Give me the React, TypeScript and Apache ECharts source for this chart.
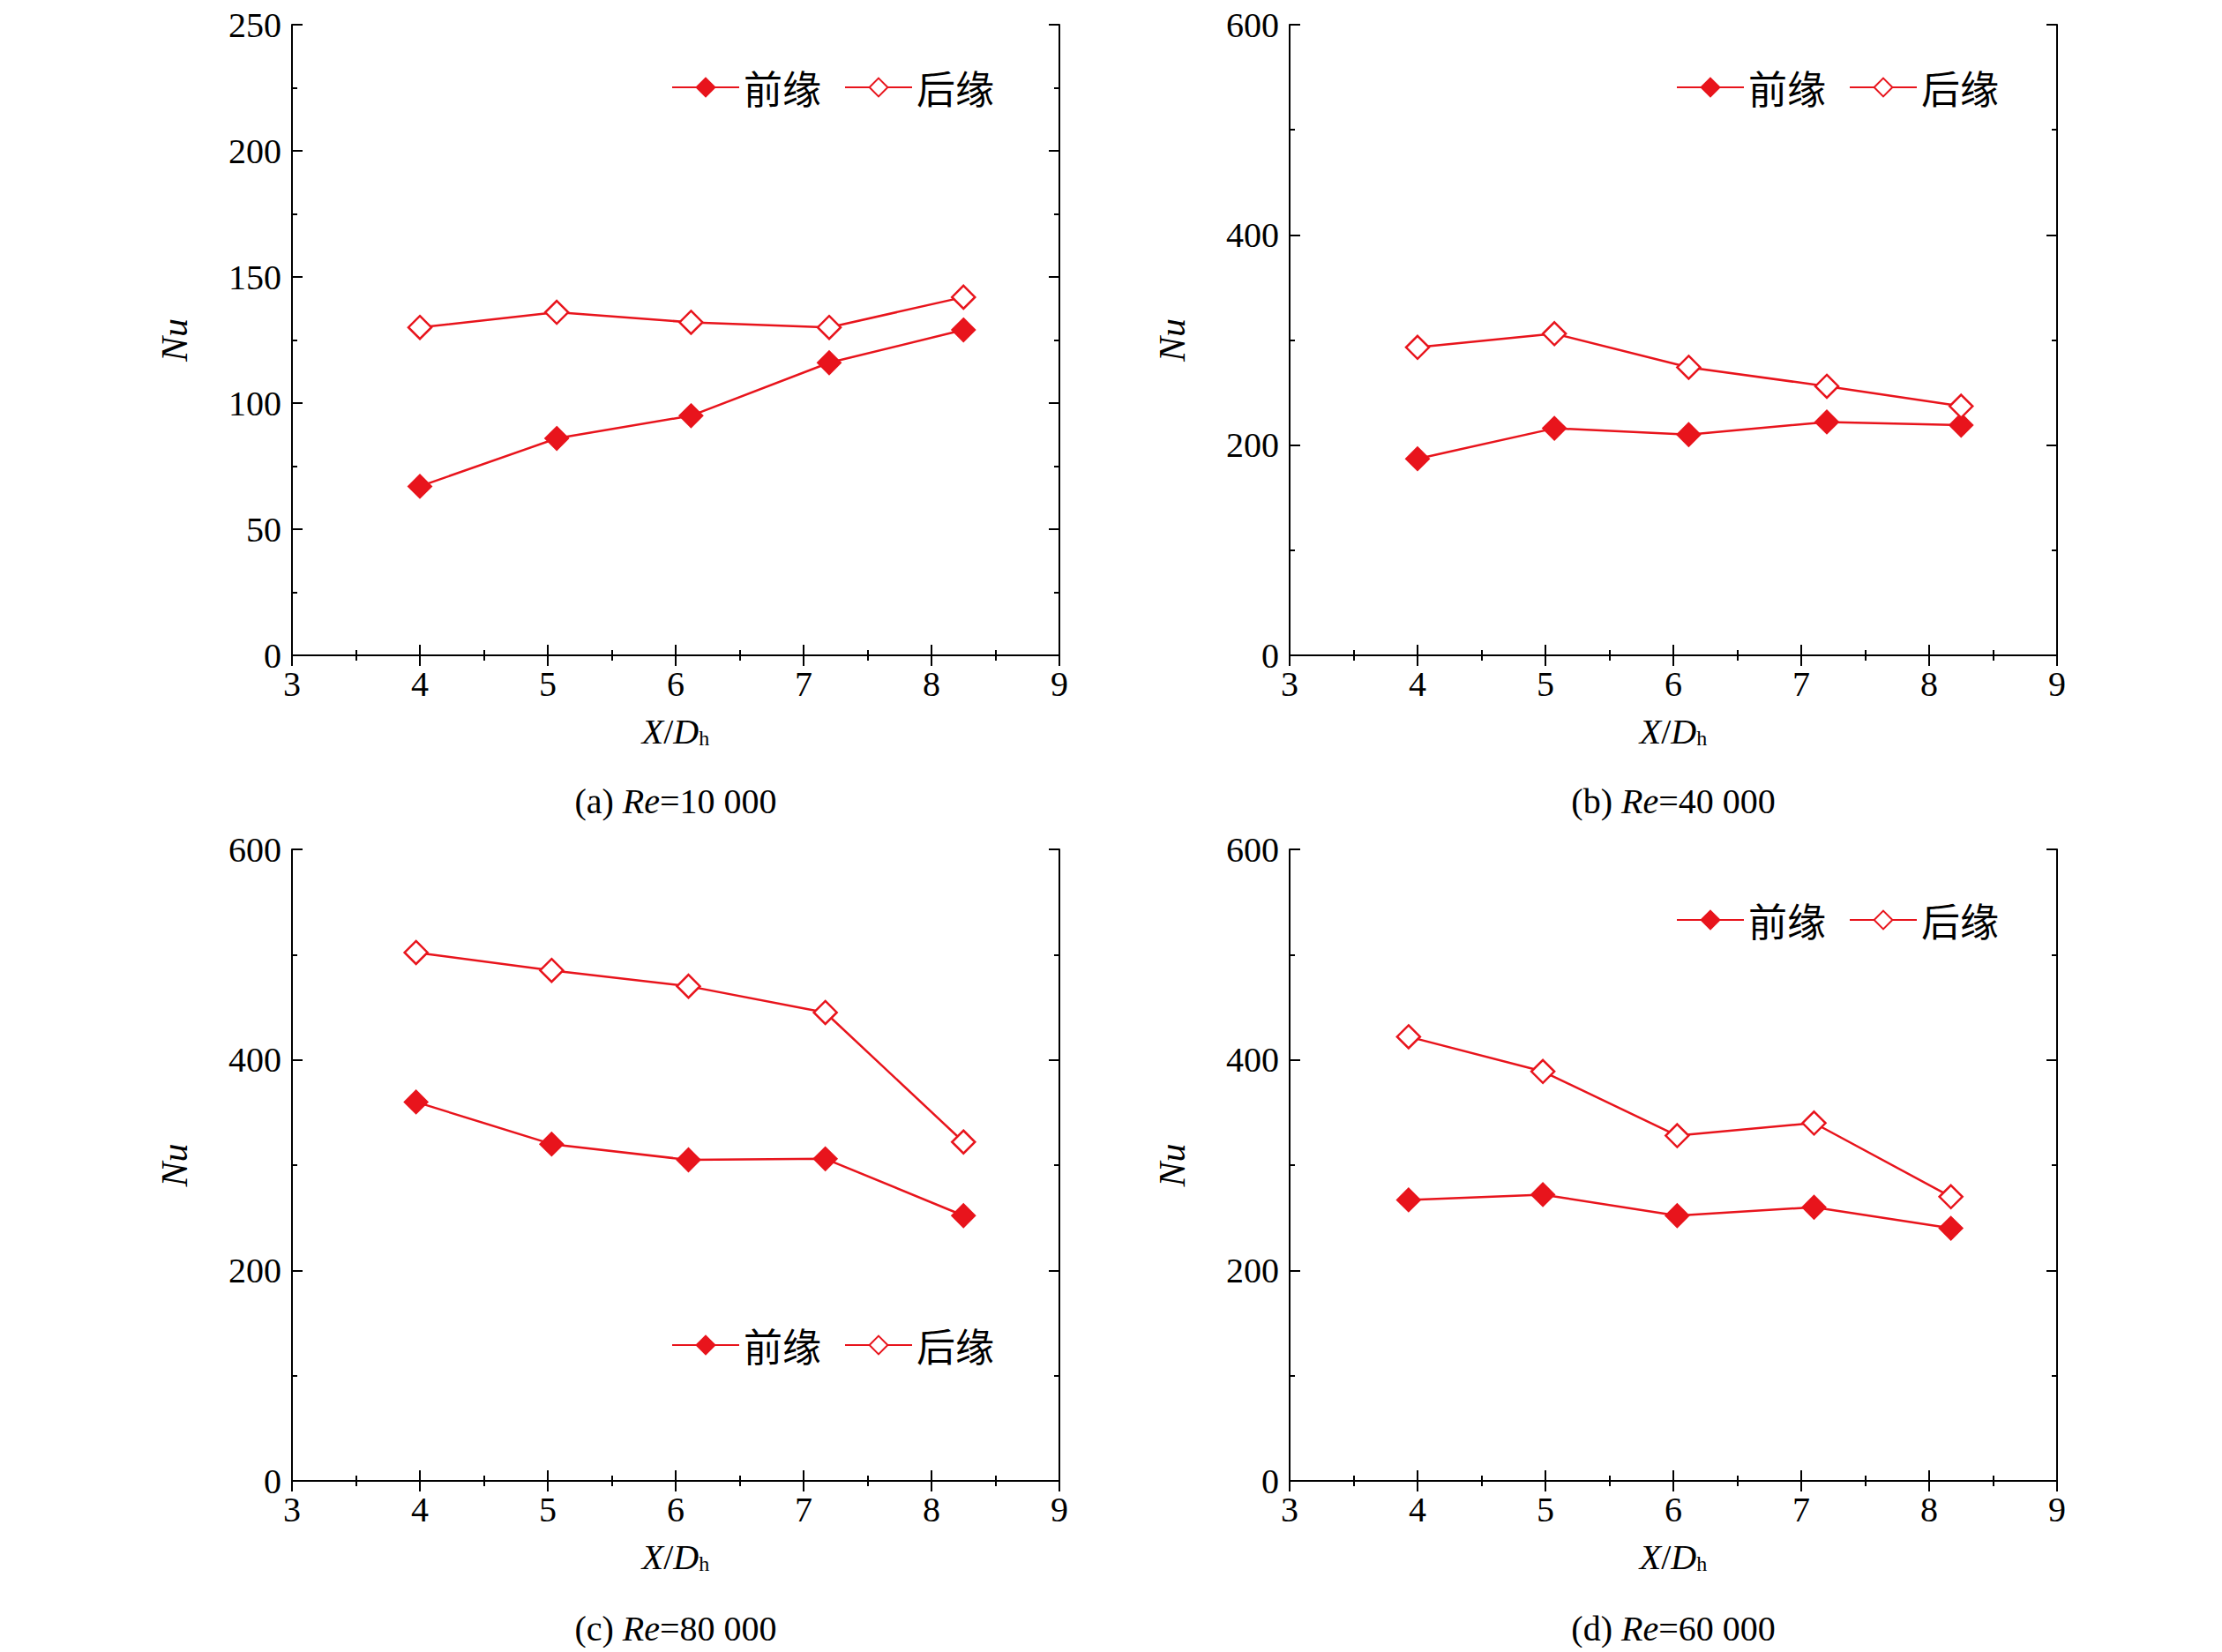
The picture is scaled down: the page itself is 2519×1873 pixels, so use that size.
import { useEffect, useRef } from "react";
import * as echarts from "echarts";

// x positions (X/Dh) and Nu values per panel
const xA = [4, 5.07, 6.12, 7.2, 8.25];
const frontA = [67, 86, 95, 116, 129];
const backA = [130, 136, 132, 130, 142];

const xB = [4, 5.07, 6.12, 7.2, 8.25];
const frontB = [187, 216, 210, 222, 219];
const backB = [293, 306, 274, 256, 237];

const xC = [3.97, 5.03, 6.1, 7.17, 8.25];
const frontC = [360, 320, 305, 306, 252];
const backC = [502, 485, 470, 445, 322];

const xD = [3.93, 4.98, 6.03, 7.1, 8.17];
const frontD = [267, 272, 252, 260, 240];
const backD = [422, 389, 328, 340, 270];

const captions = ["(a) ", "(b) ", "(c) ", "(d) "];
const reValues = ["=10 000", "=40 000", "=80 000", "=60 000"];

const RED = "#e8141c";
const FONT = "Liberation Serif";

const panels = [
  { xs: xA, front: frontA, back: backA, yMax: 250, yInt: 50 },
  { xs: xB, front: frontB, back: backB, yMax: 600, yInt: 200 },
  { xs: xC, front: frontC, back: backC, yMax: 600, yInt: 200 },
  { xs: xD, front: frontD, back: backD, yMax: 600, yInt: 200 },
];

const grids = [
  { left: 323, top: 19 },
  { left: 1454, top: 19 },
  { left: 323, top: 955 },
  { left: 1454, top: 955 },
].map((g) => ({ ...g, width: 870, height: 716 }));

export default function App() {
  const ref = useRef<HTMLDivElement | null>(null);

  useEffect(() => {
    if (!ref.current) return;
    const chart = echarts.init(ref.current, null, { renderer: "svg" });
    const xAxis: any[] = [];
    const yAxis: any[] = [];
    const series: any[] = [];
    const tick = { inside: true, length: 12, lineStyle: { color: "#000", width: 2 } };
    const minor = { show: true, splitNumber: 2, length: 6, lineStyle: { color: "#000", width: 2 } };
    const line = { lineStyle: { color: "#000", width: 2 } };
    panels.forEach((p, i) => {
      xAxis.push({
        type: "value", gridIndex: i, min: 3, max: 9, interval: 1, position: "bottom",
        axisLine: line, axisTick: tick, minorTick: minor, splitLine: { show: false },
        axisLabel: { color: "#000", fontFamily: FONT, fontSize: 40, margin: 12 },
        name: "{i|X}/{i|D}{s|h}", nameLocation: "middle", nameGap: 66,
        nameTextStyle: {
          color: "#000", fontFamily: FONT, fontSize: 40,
          rich: { i: { fontStyle: "italic", fontFamily: FONT, fontSize: 40 }, s: { fontFamily: FONT, fontSize: 24, verticalAlign: "bottom", padding: [16, 0, 0, 0] } },
        },
      });
      xAxis.push({
        type: "value", gridIndex: i, min: 3, max: 9, interval: 1, position: "top",
        axisLine: line, axisTick: tick, minorTick: minor, splitLine: { show: false }, axisLabel: { show: false },
      });
      yAxis.push({
        type: "value", gridIndex: i, min: 0, max: p.yMax, interval: p.yInt, position: "left",
        axisLine: line, axisTick: tick, minorTick: minor, splitLine: { show: false },
        axisLabel: { color: "#000", fontFamily: FONT, fontSize: 40, margin: 12 },
        name: "Nu", nameLocation: "middle", nameGap: 112, nameRotate: 90,
        nameTextStyle: { color: "#000", fontFamily: FONT, fontSize: 42, fontStyle: "italic" },
      });
      yAxis.push({
        type: "value", gridIndex: i, min: 0, max: p.yMax, interval: p.yInt, position: "right",
        axisLine: line, axisTick: tick, minorTick: minor, splitLine: { show: false }, axisLabel: { show: false },
      });
      const base = {
        type: "line", xAxisIndex: i * 2, yAxisIndex: i * 2, symbol: "diamond", symbolSize: 26,
        lineStyle: { color: RED, width: 2.5 },
      };
      series.push({
        ...base, name: "前缘", data: p.xs.map((x, k) => [x, p.front[k]]),
        itemStyle: { color: RED, borderColor: RED, borderWidth: 2 },
      });
      series.push({
        ...base, name: "后缘", data: p.xs.map((x, k) => [x, p.back[k]]),
        itemStyle: { color: "#fff", borderColor: RED, borderWidth: 2.5 },
      });
    });
    const legendPos = [
      { left: 748, top: 64 },
      { left: 1887, top: 64 },
      { left: 748, top: 1490 },
      { left: 1887, top: 1008 },
    ];
    const legend = legendPos.map((pos) => ({
      ...pos, data: ["前缘", "后缘"], itemWidth: 76, itemHeight: 26, itemGap: 26,
      textStyle: { color: "#000", fontSize: 44, fontFamily: "Noto Sans CJK SC" },
      selectedMode: false,
    }));
    const graphic = captions.map((c, i) => ({
      type: "text",
      x: grids[i].left + grids[i].width / 2,
      y: i < 2 ? 900 : 1838,
      style: {
        text: `${c}{i|Re}${reValues[i]}`, align: "center", verticalAlign: "middle",
        fill: "#000", font: `40px ${FONT}`,
        rich: { i: { fontStyle: "italic", fontFamily: FONT, fontSize: 40 } },
      },
    }));
    chart.setOption({
      animation: false,
      backgroundColor: "#fff",
      grid: grids,
      xAxis, yAxis, series, legend, graphic,
    });
    return () => chart.dispose();
  }, []);

  return <div ref={ref} style={{ width: 2500, height: 1860 }} />;
}
